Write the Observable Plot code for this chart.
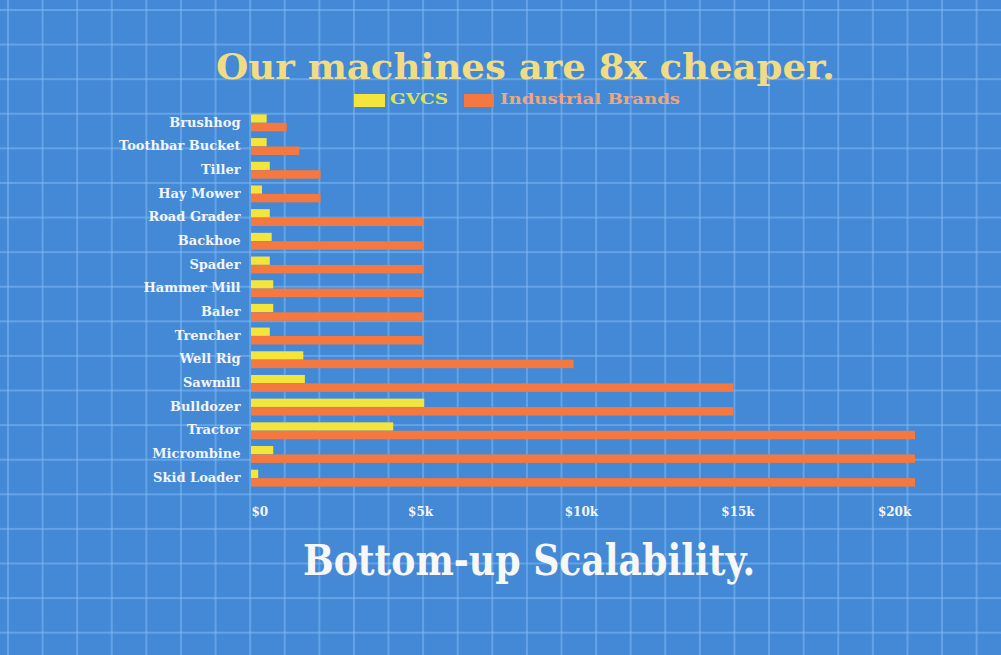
<!DOCTYPE html>
<html>
<head>
<meta charset="utf-8">
<script src="https://cdn.jsdelivr.net/npm/d3@7"></script>
<script src="https://cdn.jsdelivr.net/npm/@observablehq/plot@0.6"></script>
<style>
  html, body { margin: 0; padding: 0; }
  #page {
    position: relative; width: 1001px; height: 655px; overflow: hidden;
    background-color: #4489d6;
    background-image:
      linear-gradient(to right, rgba(130,188,245,0.5) 1.6px, transparent 1.6px),
      linear-gradient(to bottom, rgba(130,188,245,0.5) 1.6px, transparent 1.6px);
    background-size: 34.6px 34.6px;
    background-position: 7px 9px;
    font-family: "DejaVu Serif", serif; font-weight: bold;
  }
  .abs { position: absolute; white-space: nowrap; transform-origin: 0 0; }
  #title { color: #f1dc86; font-size: 36px; line-height: 36px; }
  #footer { color: #f7f7f5; font-size: 42px; line-height: 42px; }
  .legtext { font-size: 15px; line-height: 15px; }
  .swatch { position: absolute; }
  #chart { position: absolute; left: 0; top: 90px; }
</style>
</head>
<body>
<div id="page">
  <div id="title" class="abs"></div>
  <div id="legend"></div>
  <div id="chart"></div>
  <div id="footer" class="abs"></div>
</div>
<script>
// ---- data ----
const machines = ["Brushhog", "Toothbar Bucket", "Tiller", "Hay Mower", "Road Grader", "Backhoe", "Spader", "Hammer Mill", "Baler", "Trencher", "Well Rig", "Sawmill", "Bulldozer", "Tractor", "Micrombine", "Skid Loader"];
const gvcsCost = [500, 500, 600, 350, 600, 660, 600, 710, 710, 600, 1670, 1720, 5530, 4540, 710, 230];
const industrialCost = [1140, 1540, 2220, 2220, 5500, 5500, 5500, 5500, 5500, 5500, 10300, 15400, 15400, 21200, 21200, 21200];
const seriesNames = ["GVCS", "Industrial Brands"];
const seriesColors = ["#f3e53c", "#f4783f"];
const legendTextColors = ["#dfe64a", "#f1a57b"];
const tickValues = [0, 5000, 10000, 15000, 20000];
const tickLabels = ["$0", "$5k", "$10k", "$15k", "$20k"];
const titleText = "Our machines are 8x cheaper.";
const footerText = "Bottom-up Scalability.";

const rows = machines.map((m, i) => ({machine: m, gvcs: gvcsCost[i], industrial: industrialCost[i]}));

function fit(el, left, top, width) {
  el.style.left = left + "px";
  el.style.top = top + "px";
  const w = el.getBoundingClientRect().width;
  el.style.transform = `scaleX(${width / w})`;
}

// title & footer
const title = document.getElementById("title");
title.textContent = titleText;
fit(title, 216, 48, 619);
const footer = document.getElementById("footer");
footer.textContent = footerText;
fit(footer, 303, 540, 452);

// legend
const legend = document.getElementById("legend");
const legendPos = [{sx: 354, sw: 31, tx: 390, tw: 58}, {sx: 464, sw: 30, tx: 500, tw: 180}];
seriesNames.forEach((s, i) => {
  const sw = document.createElement("div");
  sw.className = "swatch";
  Object.assign(sw.style, {left: legendPos[i].sx + "px", top: "94px", width: legendPos[i].sw + "px", height: "13px", background: seriesColors[i]});
  legend.appendChild(sw);
  const t = document.createElement("div");
  t.className = "abs legtext";
  t.style.color = legendTextColors[i];
  t.textContent = s;
  legend.appendChild(t);
  fit(t, legendPos[i].tx, 92, legendPos[i].tw);
});

// chart
const chart = Plot.plot({
  width: 1001,
  height: 439,
  marginTop: 20,
  marginBottom: 40,
  marginLeft: 251,
  marginRight: 86,
  style: {background: "transparent", fontFamily: "DejaVu Serif", fontWeight: "bold", color: "#f3f5f8", overflow: "visible"},
  x: {domain: [0, 21200]},
  y: {domain: machines, padding: 0, round: false},
  marks: [
    Plot.barX(rows, {x: "gvcs", y: "machine", fill: seriesColors[0], insetTop: 4.4, insetBottom: 11}),
    Plot.barX(rows, {x: "industrial", y: "machine", fill: seriesColors[1], insetTop: 12.8, insetBottom: 2.4}),
    Plot.axisY({tickSize: 0, tickPadding: 11, fontSize: 13, label: null, color: "#f3f5f8"}),
    Plot.axisX({ticks: tickValues, tickFormat: (d) => tickLabels[tickValues.indexOf(d)], tickSize: 0, tickPadding: 18, fontSize: 12, textAnchor: "start", label: null, color: "#f3f5f8"})
  ]
});
document.getElementById("chart").appendChild(chart);
</script>
</body>
</html>
